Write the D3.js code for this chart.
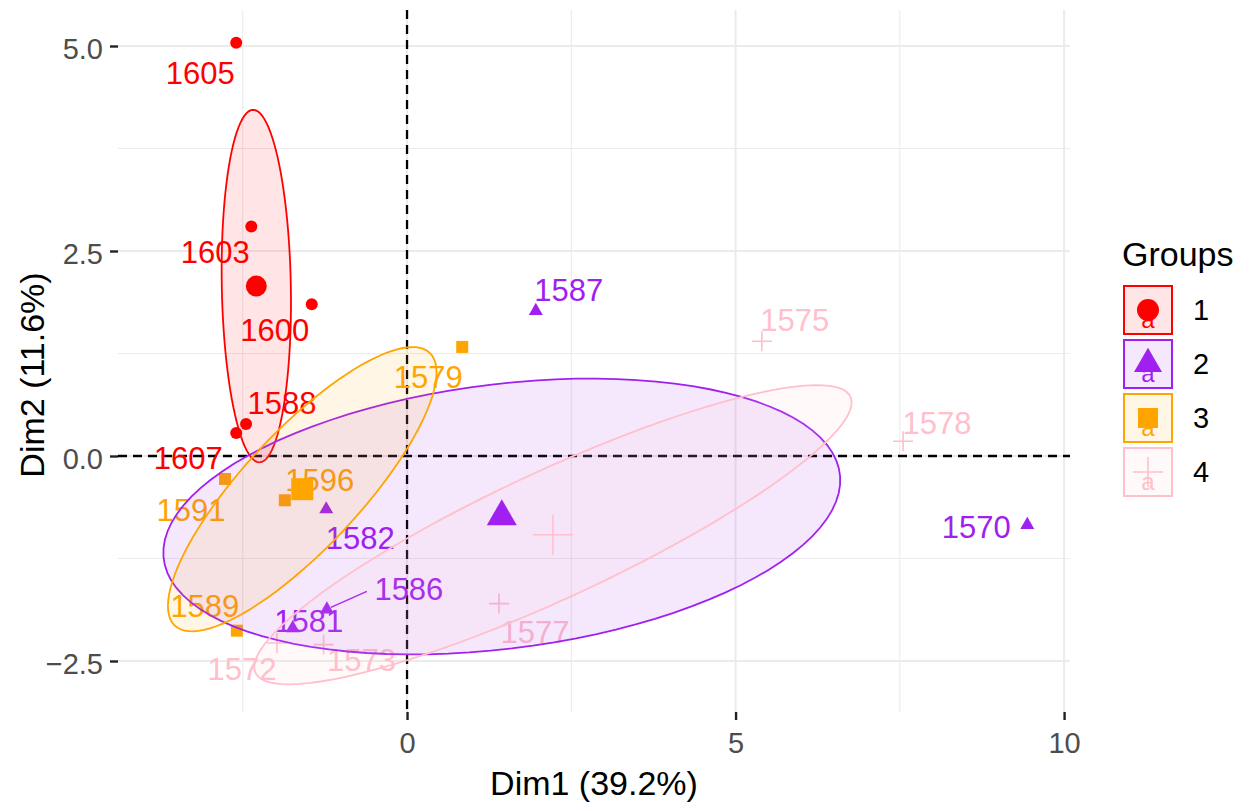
<!DOCTYPE html>
<html>
<head>
<meta charset="utf-8">
<script src="https://cdn.jsdelivr.net/npm/d3@7"></script>
<style>
  body { margin: 0; background: #fff; }
  text { font-family: "Liberation Sans", Arial, sans-serif; }
</style>
</head>
<body>
<div id="chart"></div>
<script>
// individuals on the first two PCA dimensions
var ids   = ['1605', '1603', '1600', '1588', '1607',
             '1587', '1570', '1582', '1586', '1581',
             '1579', '1596', '1591', '1589',
             '1575', '1578', '1577', '1572', '1573'];
var dim1  = [-2.60, -2.37, -1.45, -2.45, -2.60,
              1.96,  9.44, -1.23, -1.22, -1.74,
              0.84, -1.86, -2.77, -2.59,
              5.40,  7.55,  1.40, -1.98, -1.27];
var dim2  = [ 5.04,  2.80,  1.85,  0.39,  0.28,
              1.77, -0.84, -0.65, -1.87, -2.10,
              1.33, -0.54, -0.28, -2.13,
              1.40,  0.18, -1.80, -2.28, -2.30];
var group = ['1', '1', '1', '1', '1',
             '2', '2', '2', '2', '2',
             '3', '3', '3', '3',
             '4', '4', '4', '4', '4'];

var groupNames = ['1', '2', '3', '4'];
var xTicks = [0, 5, 10];
var yTicks = [-2.5, 0, 2.5, 5];
var xTitle = 'Dim1 (39.2%)';
var yTitle = 'Dim2 (11.6%)';
var legendTitle = 'Groups';

// styling / layout (not data)
var palette = {'1': '#FF0000', '2': '#A020F0', '3': '#FFA500', '4': '#FFC0CB'};
var shapes = {'1': 'circle', '2': 'triangle', '3': 'square', '4': 'plus'};
// label offsets in pixels, as placed by the repel step of the original
var labelNudge = {
	'1605': [-36, 31], '1603': [-36, 26], '1600': [-37, 26], '1588': [36, -21], '1607': [-48, 25],
	'1587': [33, -20], '1570': [-51, 3], '1582': [34, 29], '1586': [82, -20], '1581': [16, -7],
	'1579': [-34, 31], '1596': [35, -20], '1591': [-34, 32], '1589': [-32, -24],
	'1575': [33, -21], '1578': [34, -18], '1577': [36, 29], '1572': [-35, 27], '1573': [38, 16]
};

var W = 1250, H = 811;
var panel = {left: 118, right: 1070, top: 10, bottom: 712};

var svg = d3.select('#chart').append('svg')
	.attr('width', W)
	.attr('height', H);

var x = d3.scaleLinear().domain([-4.399, 10.09]).range([panel.left, panel.right]);
var y = d3.scaleLinear().domain([-3.122, 5.439]).range([panel.bottom, panel.top]);

var data = ids.map(function(id, i) {
	return {id: id, x: dim1[i], y: dim2[i], g: group[i]};
});

// grid
var grid = svg.append('g');
var xMinor = [-2.5, 2.5, 7.5];
var yMinor = [-1.25, 1.25, 3.75];
grid.selectAll('.xminor').data(xMinor).enter().append('line')
	.attr('x1', function(d) { return x(d); }).attr('x2', function(d) { return x(d); })
	.attr('y1', panel.top).attr('y2', panel.bottom)
	.attr('stroke', '#EBEBEB').attr('stroke-width', 1.1);
grid.selectAll('.yminor').data(yMinor).enter().append('line')
	.attr('y1', function(d) { return y(d); }).attr('y2', function(d) { return y(d); })
	.attr('x1', panel.left).attr('x2', panel.right)
	.attr('stroke', '#EBEBEB').attr('stroke-width', 1.1);
grid.selectAll('.xmajor').data(xTicks).enter().append('line')
	.attr('x1', function(d) { return x(d); }).attr('x2', function(d) { return x(d); })
	.attr('y1', panel.top).attr('y2', panel.bottom)
	.attr('stroke', '#EBEBEB').attr('stroke-width', 2);
grid.selectAll('.ymajor').data(yTicks).enter().append('line')
	.attr('y1', function(d) { return y(d); }).attr('y2', function(d) { return y(d); })
	.attr('x1', panel.left).attr('x2', panel.right)
	.attr('stroke', '#EBEBEB').attr('stroke-width', 2);

// axes
var xAxis = svg.append('g')
	.attr('transform', 'translate(0,' + panel.bottom + ')')
	.call(d3.axisBottom(x).tickValues(xTicks).tickSize(8).tickPadding(8).tickFormat(d3.format('d')));
var yAxis = svg.append('g')
	.attr('transform', 'translate(' + panel.left + ',0)')
	.call(d3.axisLeft(y).tickValues(yTicks).tickSize(8).tickPadding(7).tickFormat(d3.format('.1f')));
[xAxis, yAxis].forEach(function(ax) {
	ax.select('.domain').remove();
	ax.selectAll('.tick line').attr('stroke', '#222').attr('stroke-width', 2.4);
	ax.selectAll('.tick text')
		.attr('fill', '#4D4D4D')
		.style('font-size', '29px')
		.style('font-family', '"Liberation Sans", Arial, sans-serif');
});
yAxis.selectAll('.tick text').attr('dy', '0.42em');
xAxis.selectAll('.tick text').attr('dy', '0.85em');

// reference lines
svg.append('line')
	.attr('x1', panel.left).attr('x2', panel.right)
	.attr('y1', y(0)).attr('y2', y(0))
	.attr('stroke', '#000').attr('stroke-width', 2.3).attr('stroke-dasharray', '9,6');
svg.append('line')
	.attr('x1', x(0)).attr('x2', x(0))
	.attr('y1', panel.top).attr('y2', panel.bottom)
	.attr('stroke', '#000').attr('stroke-width', 2.3).attr('stroke-dasharray', '9,6');

// symbol drawing
function drawShape(sel, shape, cx, cy, s, color) {
	if (shape === 'circle') {
		sel.append('circle').attr('cx', cx).attr('cy', cy).attr('r', s / 2).attr('fill', color);
	} else if (shape === 'triangle') {
		var h = s * Math.sqrt(3) / 2;
		sel.append('path')
			.attr('d', 'M' + cx + ',' + (cy - h * 2 / 3) + 'L' + (cx + s / 2) + ',' + (cy + h / 3) +
				'L' + (cx - s / 2) + ',' + (cy + h / 3) + 'Z')
			.attr('fill', color);
	} else if (shape === 'square') {
		sel.append('rect').attr('x', cx - s / 2).attr('y', cy - s / 2)
			.attr('width', s).attr('height', s).attr('fill', color);
	} else {
		sel.append('path')
			.attr('d', 'M' + (cx - s / 2) + ',' + cy + 'H' + (cx + s / 2) +
				'M' + cx + ',' + (cy - s / 2) + 'V' + (cy + s / 2))
			.attr('stroke', color).attr('stroke-width', 1.6).attr('fill', 'none');
	}
}
var pointSize = {circle: 12, triangle: 14, square: 12, plus: 20};
var meanSize = {circle: 21, triangle: 30, square: 22, plus: 40};

// individual points
var pts = svg.append('g');
data.forEach(function(d) {
	var sh = shapes[d.g];
	drawShape(pts, sh, x(d.x), y(d.y), pointSize[sh], palette[d.g]);
});

// labels (with a segment where the label is pushed far away)
var labs = svg.append('g');
data.forEach(function(d) {
	var n = labelNudge[d.id];
	var lx = x(d.x) + n[0], ly = y(d.y) + n[1];
	if (Math.abs(n[0]) > 60) {
		labs.append('line')
			.attr('x1', x(d.x) + 4).attr('y1', y(d.y) - 2)
			.attr('x2', lx - 42).attr('y2', ly + 2)
			.attr('stroke', palette[d.g]).attr('stroke-width', 1.4);
	}
	labs.append('text')
		.attr('x', lx).attr('y', ly)
		.attr('text-anchor', 'middle')
		.attr('dominant-baseline', 'central')
		.attr('fill', palette[d.g])
		.style('font-size', '31px')
		.text(d.id);
});

// confidence ellipses around group means (95%, cov / n)
var chi = Math.sqrt(5.991);
function ellipsePts(rows) {
	var n = rows.length;
	var mx = d3.mean(rows, function(r) { return r.x; });
	var my = d3.mean(rows, function(r) { return r.y; });
	var sxx = d3.sum(rows, function(r) { return (r.x - mx) * (r.x - mx); }) / (n - 1) / n;
	var syy = d3.sum(rows, function(r) { return (r.y - my) * (r.y - my); }) / (n - 1) / n;
	var sxy = d3.sum(rows, function(r) { return (r.x - mx) * (r.y - my); }) / (n - 1) / n;
	var tr = sxx + syy, det = sxx * syy - sxy * sxy;
	var l1 = tr / 2 + Math.sqrt(tr * tr / 4 - det), l2 = tr / 2 - Math.sqrt(tr * tr / 4 - det);
	var ang = Math.abs(sxy) < 1e-12 ? (sxx >= syy ? 0 : Math.PI / 2) : Math.atan2(l1 - sxx, sxy);
	var out = [];
	for (var k = 0; k <= 100; k++) {
		var t = 2 * Math.PI * k / 100;
		var a = chi * Math.sqrt(l1) * Math.cos(t), b = chi * Math.sqrt(l2) * Math.sin(t);
		out.push([mx + a * Math.cos(ang) - b * Math.sin(ang), my + a * Math.sin(ang) + b * Math.cos(ang)]);
	}
	return {pts: out, mx: mx, my: my};
}
var line = d3.line().x(function(p) { return x(p[0]); }).y(function(p) { return y(p[1]); });
var ell = svg.append('g');
var means = [];
groupNames.forEach(function(g) {
	var rows = data.filter(function(d) { return d.g === g; });
	var e = ellipsePts(rows);
	means.push({g: g, x: e.mx, y: e.my});
	ell.append('path')
		.attr('d', line(e.pts) + 'Z')
		.attr('fill', palette[g]).attr('fill-opacity', 0.1)
		.attr('stroke', palette[g]).attr('stroke-width', 1.8);
});

// group means
var mg = svg.append('g');
means.forEach(function(m) {
	var sh = shapes[m.g];
	drawShape(mg, sh, x(m.x), y(m.y), meanSize[sh], palette[m.g]);
});

// axis titles
svg.append('text')
	.attr('x', (panel.left + panel.right) / 2).attr('y', 795)
	.attr('text-anchor', 'middle')
	.style('font-size', '34px')
	.text(xTitle);
svg.append('text')
	.attr('transform', 'translate(44,' + ((panel.top + panel.bottom) / 2 + 14) + ') rotate(-90)')
	.attr('text-anchor', 'middle')
	.style('font-size', '34px')
	.text(yTitle);

// legend
var leg = svg.append('g').attr('transform', 'translate(1123,0)');
leg.append('text')
	.attr('x', -1).attr('y', 266)
	.style('font-size', '34px')
	.text(legendTitle);
var legSym = {circle: 22, triangle: 28, square: 20, plus: 30};
groupNames.forEach(function(g, i) {
	var top = 285 + i * 54;
	var key = leg.append('g');
	key.append('rect')
		.attr('x', 1).attr('y', top + 1).attr('width', 48).attr('height', 48)
		.attr('fill', palette[g]).attr('fill-opacity', 0.1)
		.attr('stroke', palette[g]).attr('stroke-width', 2);
	key.append('text')
		.attr('x', 25).attr('y', top + 34)
		.attr('text-anchor', 'middle')
		.attr('dominant-baseline', 'central')
		.attr('fill', palette[g])
		.style('font-size', '24px')
		.text('a');
	drawShape(key, shapes[g], 25, top + 25, legSym[shapes[g]], palette[g]);
	leg.append('text')
		.attr('x', 70).attr('y', top + 25)
		.attr('dominant-baseline', 'central')
		.style('font-size', '29px')
		.text(g);
});
</script>
</body>
</html>
